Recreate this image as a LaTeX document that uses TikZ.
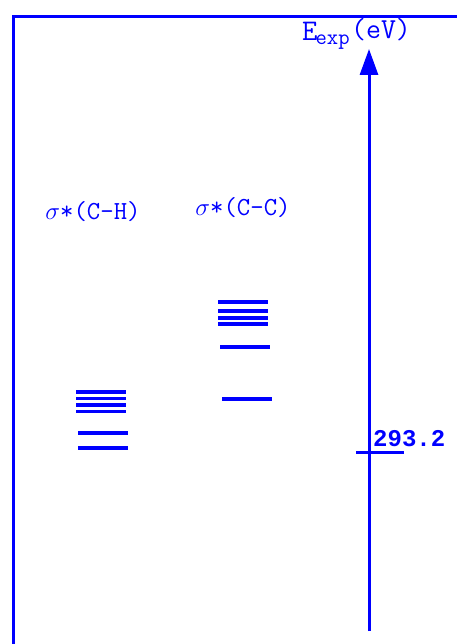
\documentclass[tikz,border=0pt]{standalone}
\usepackage{fontspec}
\newfontfamily\numfont{Liberation Mono}
\usetikzlibrary{arrows.meta}
\definecolor{levblue}{RGB}{0,0,255}
\tikzset{
  level/.style={levblue, line width=3.5pt},
  lab/.style={levblue, font=\ttfamily\fontsize{26}{26}\selectfont, inner sep=0pt}
}
\begin{document}
\begin{tikzpicture}[x=1pt, y=-1pt]
    \useasboundingbox (0,0) rectangle (457,644);

    % frame
    \draw[levblue, line width=3pt] (13.5,644) -- (13.5,16.5) -- (457,16.5);

    % energy axis
    \coordinate (axbot) at (369,631);
    \coordinate (axtop) at (369,49);
    \draw[levblue, line width=3pt, -{Triangle[length=26pt,width=18pt]}] (axbot) -- (axtop);
    \node[lab, anchor=base west, font=\ttfamily\fontsize{30}{30}\selectfont] (elab) at (302,41)
      {E\kern-2pt\textsubscript{\fontsize{22}{22}\selectfont exp}\kern1pt\raisebox{2pt}{\fontsize{29}{29}\selectfont(eV)}};

    % reference energy
    \coordinate (tickL) at (356,452);
    \coordinate (tickR) at (404,452);
    \draw[levblue, line width=3pt] (tickL) -- (tickR);
    \node[lab, anchor=base west, font=\numfont\bfseries\fontsize{24}{24}\selectfont] (eref) at (373,446) {293.2};

    % sigma* (C-H) levels
    \node[lab, anchor=base] (chlab) at (93,219) {$\sigma$*(C-H)};
    \foreach \y in {392,398.5,405,411.5}
      \draw[level] (76,\y) -- (126,\y);
    \foreach \y in {433,448}
      \draw[level] (78,\y) -- (128,\y);

    % sigma* (C-C) levels
    \node[lab, anchor=base] (cclab) at (243,215) {$\sigma$*(C-C)};
    \foreach \y in {302,311,318,324}
      \draw[level] (218,\y) -- (268,\y);
    \draw[level] (220,347) -- (270,347);
    \draw[level] (222,399) -- (272,399);
\end{tikzpicture}
\end{document}
